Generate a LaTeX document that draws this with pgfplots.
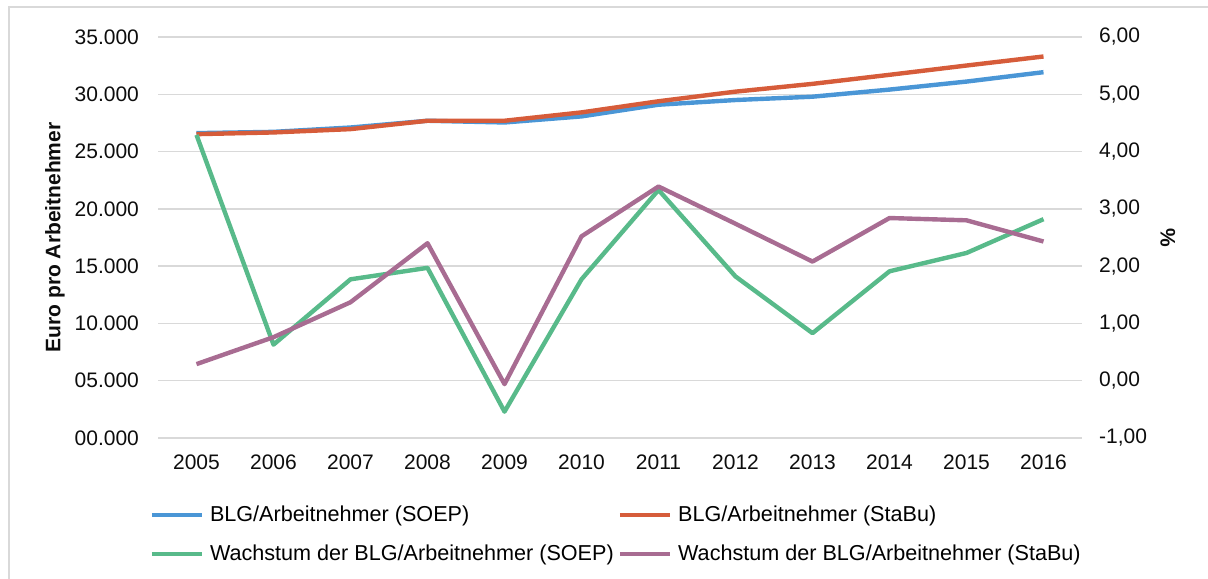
\documentclass[border=0pt]{standalone}
\usepackage{pgfplots}
\pgfplotsset{compat=1.18}
\usepackage{fontspec}
\setmainfont{Liberation Sans}
\definecolor{cblue}{RGB}{74,150,214}
\definecolor{cred}{RGB}{214,92,58}
\definecolor{cgreen}{RGB}{88,186,138}
\definecolor{cpurple}{RGB}{168,108,146}
\definecolor{cgrid}{RGB}{217,217,217}
\definecolor{ctext}{RGB}{13,13,13}
\begin{document}
\begin{tikzpicture}
\path[use as bounding box] (0pt,0pt) rectangle (604pt,289pt);
\draw[cgrid, line width=0.75pt] (4.5pt,-15pt) rectangle (620pt,285.5pt);
\pgfplotsset{
  base/.style={
    at={(79pt,70pt)}, anchor=south west,
    scale only axis, width=462pt, height=200.5pt,
    xmin=-0.5, xmax=11.5,
    axis line style={draw=none},
    major tick length=0pt,
    tick style={draw=none},
    scaled y ticks=false,
    ticklabel style={font=\fontsize{10.5}{12}\selectfont, text=ctext},
    label style={font=\bfseries\fontsize{10.5}{12}\selectfont, text=ctext},
    clip=false,
  }
}
\begin{axis}[base,
  ymin=0, ymax=35000,
  xtick={0,1,2,3,4,5,6,7,8,9,10,11},
  xticklabels={2005,2006,2007,2008,2009,2010,2011,2012,2013,2014,2015,2016},
  xticklabel style={yshift=-5pt},
  ytick={0,5000,10000,15000,20000,25000,30000,35000},
  yticklabels={00.000,05.000,10.000,15.000,20.000,25.000,30.000,35.000},
  yticklabel style={xshift=-6pt},
  ymajorgrids, grid style={cgrid, line width=0.75pt},
  ylabel={Euro pro Arbeitnehmer},
  ylabel style={at={(axis description cs:-0.1115,0.5)}, anchor=center},
]
\addplot[cblue, line width=2.2pt, line join=round] coordinates {
(0,26610) (1,26720) (2,27100) (3,27690) (4,27540) (5,28070) (6,29090) (7,29500) (8,29790) (9,30410) (10,31110) (11,31930)};
\addplot[cred, line width=2.2pt, line join=round] coordinates {
(0,26520) (1,26670) (2,26960) (3,27690) (4,27690) (5,28420) (6,29390) (7,30230) (8,30910) (9,31700) (10,32510) (11,33300)};
\end{axis}
\begin{axis}[base,
  axis x line=none,
  axis y line*=right,
  ymin=-1, ymax=6,
  ytick={-1,0,1,2,3,4,5,6},
  yticklabels={{-1,00},{0,00},{1,00},{2,00},{3,00},{4,00},{5,00},{6,00}},
  yticklabel style={xshift=5pt},
  ylabel={\%},
  ylabel style={at={(axis description cs:1.093,0.5)}, anchor=center, rotate=180},
  legend columns=2,
  legend cell align=left,
  legend style={draw=none, fill=none, inner sep=0pt, font=\fontsize{10.8}{12.5}\selectfont,
    at={(axis description cs:-0.0095,-0.158)}, anchor=north west,
    /tikz/every odd column/.append style={column sep=1pt},
    /tikz/every even column/.append style={column sep=0pt},
    row sep=6pt},
  legend image code/.code={\draw[#1, line width=2.2pt] (0pt,0pt) -- (25pt,0pt);},
]
\addlegendimage{cblue, line width=2.2pt}
\addlegendentry{BLG/Arbeitnehmer (SOEP)}
\addlegendimage{cred, line width=2.2pt}
\addlegendentry{BLG/Arbeitnehmer (StaBu)}
\addplot[cgreen, line width=2.2pt, line join=round] coordinates {
(0,4.29) (1,0.63) (2,1.77) (3,1.97) (4,-0.54) (5,1.77) (6,3.33) (7,1.82) (8,0.83) (9,1.91) (10,2.23) (11,2.82)};
\addlegendentry{Wachstum der BLG/Arbeitnehmer (SOEP)}
\addplot[cpurple, line width=2.2pt, line join=round] coordinates {
(0,0.29) (1,0.76) (2,1.37) (3,2.40) (4,-0.06) (5,2.52) (6,3.39) (7,2.74) (8,2.08) (9,2.84) (10,2.80) (11,2.43)};
\addlegendentry{Wachstum der BLG/Arbeitnehmer (StaBu)}
\end{axis}
\end{tikzpicture}
\end{document}
